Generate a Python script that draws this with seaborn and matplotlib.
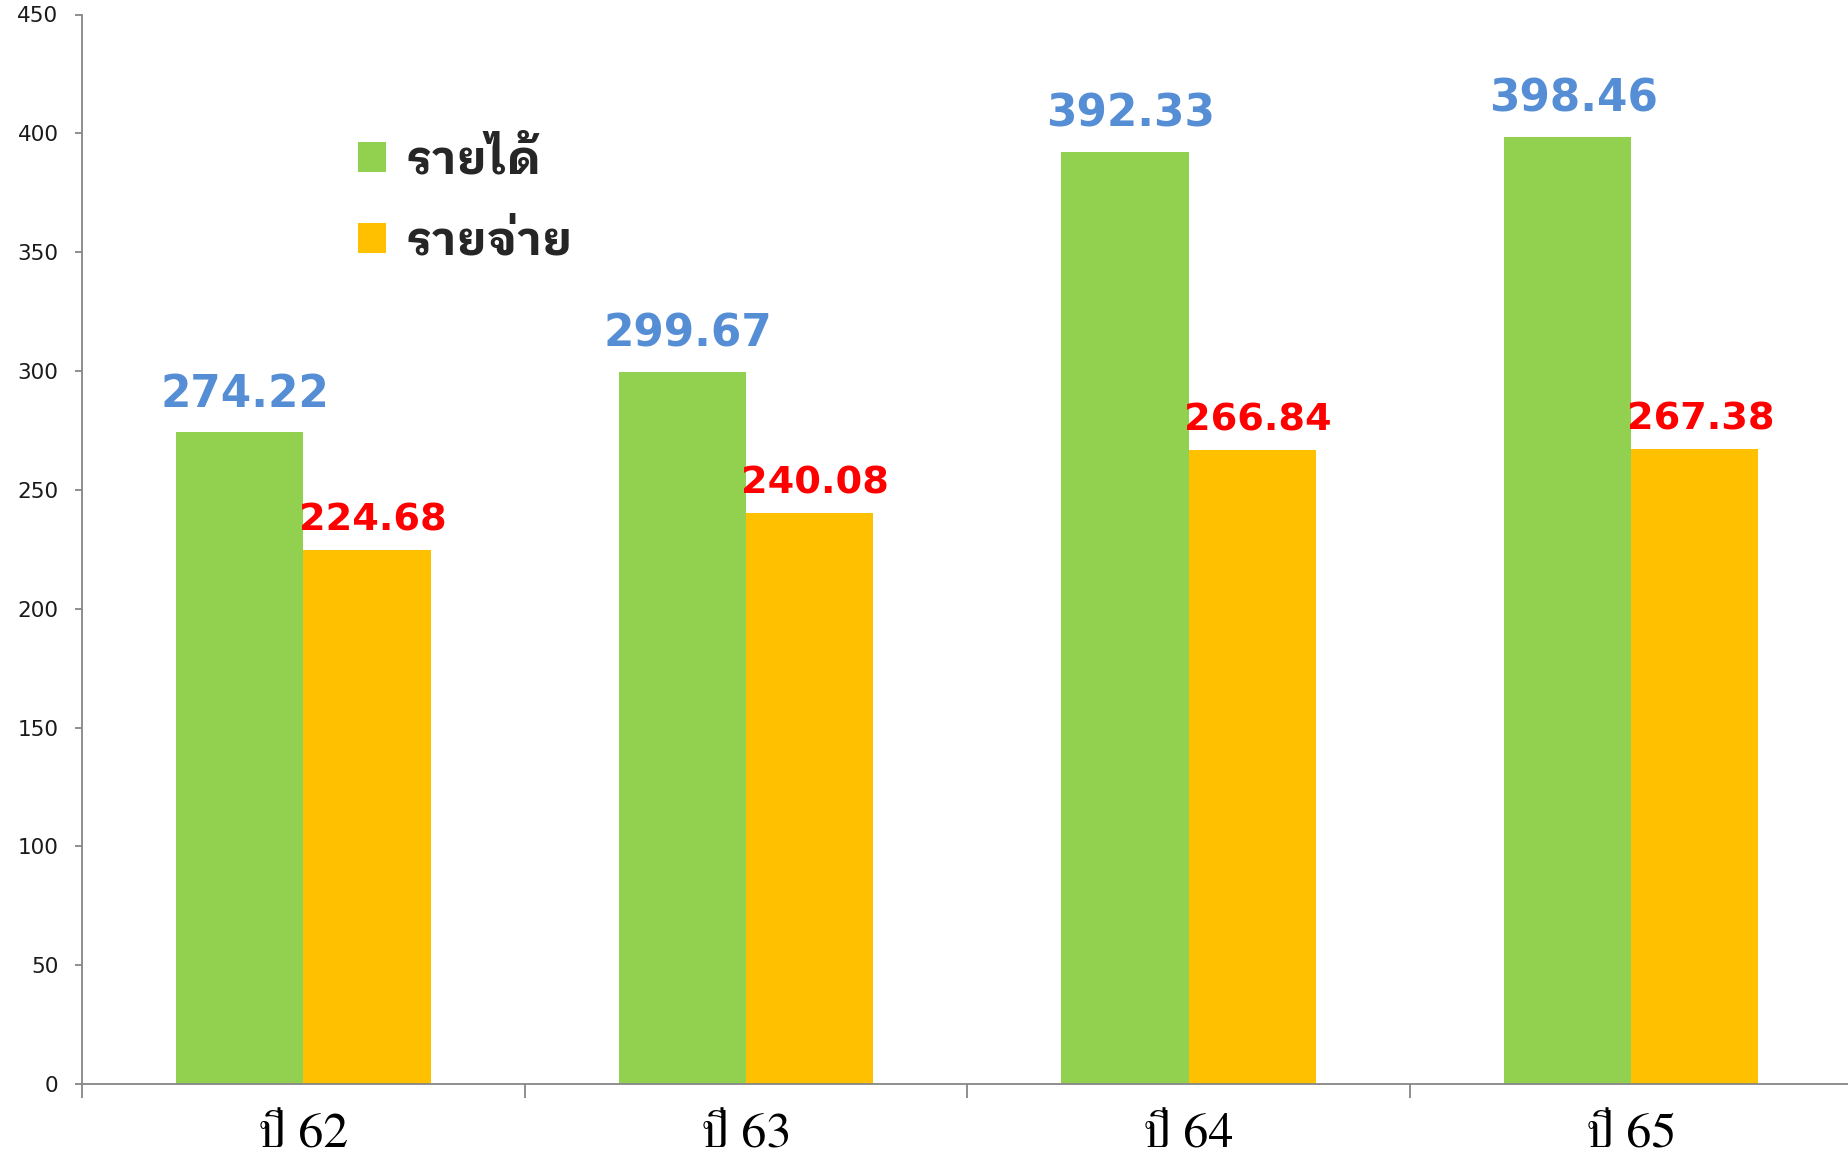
import numpy as np
import pandas as pd
import matplotlib
matplotlib.use("Agg")
import matplotlib.pyplot as plt
import seaborn as sns
from matplotlib import font_manager

years = ["ปี 62", "ปี 63", "ปี 64", "ปี 65"]
income = [274.22, 299.67, 392.33, 398.46]
expense = [224.68, 240.08, 266.84, 267.38]
series = ["รายได้", "รายจ่าย"]
bar_colors = ["#92D050", "#FFC000"]
label_colors = ["#558ED5", "#FF0000"]
yticks = [0, 50, 100, 150, 200, 250, 300, 350, 400, 450]


def pick(cands):
    have = set(f.name for f in font_manager.fontManager.ttflist)
    out = [c for c in cands if c in have]
    return out + ["DejaVu Sans"]


serif_thai = pick(["FreeSerif", "Taviraj", "Trirong", "Noto Serif Thai"])
sans_thai = pick(["IBM Plex Sans Thai Looped", "Noto Sans Thai Looped", "Sarabun", "Noto Sans Thai"])

df = pd.DataFrame({
    "year": years * 2,
    "value": income + expense,
    "series": [series[0]] * 4 + [series[1]] * 4,
})

sns.set_style("white")
plt.rcParams["font.family"] = ["DejaVu Sans"]

fig = plt.figure(figsize=(18.48, 11.6), dpi=100)
ax = fig.add_axes([0.0444, 0.0655, 0.958, 0.922])

sns.barplot(data=df, x="year", y="value", hue="series", palette=bar_colors,
            width=0.575, saturation=1, linewidth=0, ax=ax, legend=True)

ax.set_ylim(0, 450)
ax.set_xlim(-0.5, 3.5)
ax.set_yticks(yticks)
ax.set_xlabel("")
ax.set_ylabel("")

# value labels above bars
for cont, col, off, fs in zip(ax.containers, label_colors, [18, 14], [31.5, 27.5]):
    for bar in cont:
        ax.annotate(f"{bar.get_height():.2f}",
                    (bar.get_x() + bar.get_width() / 2, bar.get_height()),
                    xytext=(4, off), textcoords="offset points",
                    ha="center", va="baseline", color=col,
                    fontsize=fs, fontweight="bold")

# axes look like excel
for s in ["top", "right"]:
    ax.spines[s].set_visible(False)
for s in ["left", "bottom"]:
    ax.spines[s].set_color("#868686")
    ax.spines[s].set_linewidth(1.3)

ax.tick_params(axis="y", length=5, width=1.3, color="#868686", pad=12,
               labelsize=15.5, labelcolor="#1a1a1a", left=True)
ax.set_xticks([-0.5, 0.5, 1.5, 2.5, 3.5], minor=True)
ax.tick_params(axis="x", which="minor", length=10, width=1.3, color="#868686", bottom=True)
ax.tick_params(axis="x", which="major", length=0, pad=21)
for t in ax.get_xticklabels():
    t.set_family(serif_thai)
    t.set_fontsize(36)
    t.set_color("black")

handles, labels = ax.get_legend_handles_labels()
ax.legend(handles, labels, loc="upper left",
          bbox_to_anchor=(358 / 1848, 1 - 138 / 1160), bbox_transform=fig.transFigure,
          frameon=False, borderpad=0, borderaxespad=0,
          handlelength=0.6, handleheight=0.6, handletextpad=0.4, labelspacing=0.8,
          prop={"family": sans_thai, "size": 34, "weight": "bold"})

fig.savefig("out.png", dpi=100)
